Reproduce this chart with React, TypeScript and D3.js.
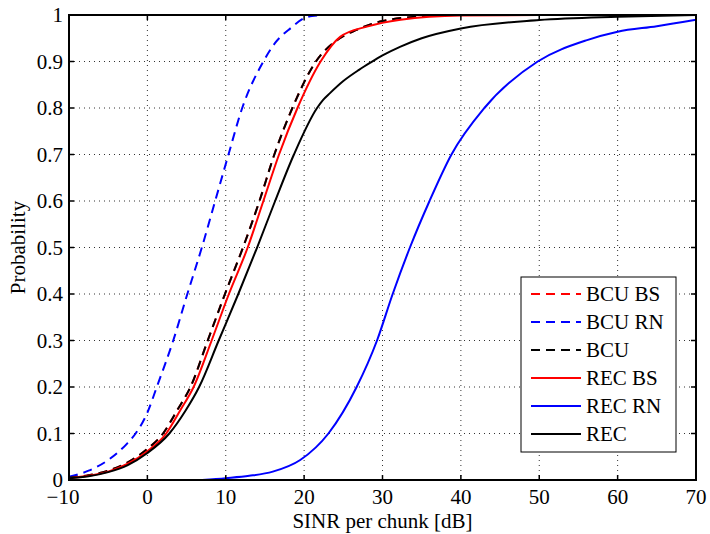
import React from "react";
import * as d3 from "d3";

const xTicks = [-10, 0, 10, 20, 30, 40, 50, 60, 70];
const yTicks = [0, 0.1, 0.2, 0.3, 0.4, 0.5, 0.6, 0.7, 0.8, 0.9, 1];

const bcuBsX = [-10, -7.5, -5, -2.5, 0, 2.0, 3.8, 5.5, 7.7, 9.9, 12.2, 14.3, 16.2, 18.5, 21.5, 24.2, 26.7, 30, 35, 40, 70];
const bcuBsP = [0.005, 0.01, 0.02, 0.038, 0.067, 0.1, 0.15, 0.2, 0.3, 0.4, 0.5, 0.6, 0.7, 0.8, 0.9, 0.946, 0.968, 0.987, 0.997, 1, 1];

const bcuRnX = [-10, -7.5, -5, -2.5, -1.5, 0, 1.2, 3.3, 5.1, 6.95, 8.65, 10.35, 12.1, 14.8, 16.3, 18.3, 20, 21, 23, 25];
const bcuRnP = [0.007, 0.02, 0.043, 0.08, 0.1, 0.145, 0.2, 0.3, 0.4, 0.5, 0.6, 0.7, 0.8, 0.9, 0.94, 0.972, 0.993, 0.998, 1.0, 1.0];

const bcuX = [-10, -7.5, -5, -2.5, 0, 2.0, 3.8, 5.5, 7.7, 9.9, 12.2, 14.3, 16.2, 18.5, 21.5, 24.2, 26.7, 30, 35, 40, 70];
const bcuP = [0.005, 0.01, 0.02, 0.038, 0.067, 0.1, 0.15, 0.2, 0.3, 0.4, 0.5, 0.6, 0.7, 0.8, 0.9, 0.946, 0.968, 0.987, 0.997, 1, 1];

const recBsX = [-10, -7.5, -5, -2.5, 0, 2.4, 4.2, 5.9, 8.2, 10.4, 12.8, 14.8, 16.8, 19.15, 22.1, 24.6, 28, 32.3, 40, 50, 70];
const recBsP = [0.004, 0.009, 0.018, 0.035, 0.062, 0.1, 0.15, 0.2, 0.3, 0.4, 0.5, 0.6, 0.7, 0.8, 0.9, 0.953, 0.975, 0.99, 0.999, 1, 1];

const recRnX = [7, 10, 13, 16, 19.5, 23.1, 26.7, 29.3, 31.3, 33.5, 36, 38.8, 43, 49.8, 56.1, 60, 65, 70];
const recRnP = [0, 0.004, 0.009, 0.018, 0.043, 0.1, 0.2, 0.3, 0.4, 0.5, 0.6, 0.7, 0.8, 0.9, 0.946, 0.964, 0.976, 0.99];

const recX = [-10, -7.5, -5, -2.5, 0, 2.8, 4.9, 6.6, 9.1, 11.6, 14.0, 16.3, 18.7, 21.65, 22.4, 23.3, 25, 27, 28.5, 30, 32.3, 35, 40, 50, 60, 70];
const recP = [0.004, 0.008, 0.017, 0.032, 0.058, 0.1, 0.15, 0.2, 0.3, 0.4, 0.5, 0.6, 0.7, 0.8, 0.817, 0.832, 0.858, 0.882, 0.898, 0.913, 0.932, 0.95, 0.971, 0.989, 0.996, 1];

const seriesNames = ["BCU BS", "BCU RN", "BCU", "REC BS", "REC RN", "REC"];
const seriesColors = ["#ff0000", "#0000ff", "#000000", "#ff0000", "#0000ff", "#000000"];
const seriesDashed = [true, true, true, false, false, false];
const seriesX = [bcuBsX, bcuRnX, bcuX, recBsX, recRnX, recX];
const seriesP = [bcuBsP, bcuRnP, bcuP, recBsP, recRnP, recP];

const W = 710;
const H = 534;
const L = 69, R = 696, T = 15, B = 480;
const FONT = "Liberation Serif, Times New Roman, Times, DejaVu Serif, serif";
const FS = 21;

export default function App() {
  const x = d3.scaleLinear().domain([-10, 70]).range([L, R]);
  const y = d3.scaleLinear().domain([0, 1]).range([B, T]);
  const line = d3
    .line<[number, number]>()
    .x((d) => x(d[0]))
    .y((d) => y(d[1]))
    .curve(d3.curveMonotoneX);

  const fmtY = (v: number) => (v === 0 ? "0" : v === 1 ? "1" : d3.format(".1f")(v));
  const fmtX = (v: number) => (v < 0 ? "\u2212" + Math.abs(v) : String(v));

  const legX = 521, legY = 277, legW = 155, legH = 175;
  const tick = 5;
  const textStyle = { fontFamily: FONT, fontSize: FS };

  return (
    <svg width={W} height={H} style={{ position: "absolute", left: 0, top: 0, background: "#fff" }}>
      <rect x={0} y={0} width={W} height={H} fill="#fff" />
      <g stroke="#000" strokeWidth={1} strokeDasharray="1,4" opacity={0.8}>
        {xTicks.slice(1, -1).map((t) => (
          <line key={"gx" + t} x1={x(t)} x2={x(t)} y1={T} y2={B} />
        ))}
        {yTicks.slice(1, -1).map((t) => (
          <line key={"gy" + t} x1={L} x2={R} y1={y(t)} y2={y(t)} />
        ))}
      </g>
      <g fill="none" strokeWidth={2} strokeLinejoin="round">
        {seriesNames.map((n, i) => (
          <path
            key={n}
            d={line(seriesX[i].map((v, j) => [v, seriesP[i][j]] as [number, number])) || ""}
            stroke={seriesColors[i]}
            strokeDasharray={seriesDashed[i] ? "9,6" : undefined}
          />
        ))}
      </g>
      <g stroke="#000" strokeWidth={1.5}>
        {xTicks.map((t) => (
          <g key={"tx" + t}>
            <line x1={x(t)} x2={x(t)} y1={B} y2={B - tick} />
            <line x1={x(t)} x2={x(t)} y1={T} y2={T + tick} />
          </g>
        ))}
        {yTicks.map((t) => (
          <g key={"ty" + t}>
            <line x1={L} x2={L + tick} y1={y(t)} y2={y(t)} />
            <line x1={R} x2={R - tick} y1={y(t)} y2={y(t)} />
          </g>
        ))}
      </g>
      <rect x={L} y={T} width={R - L} height={B - T} fill="none" stroke="#000" strokeWidth={2} />
      <g fill="#000">
        {xTicks.map((t) => (
          <text key={"lx" + t} x={x(t) - (t < 0 ? 6 : 0)} y={504} textAnchor="middle" style={textStyle}>
            {fmtX(t)}
          </text>
        ))}
        {yTicks.map((t) => (
          <text key={"ly" + t} x={63} y={y(t) + 7} textAnchor="end" style={textStyle}>
            {fmtY(t)}
          </text>
        ))}
        <text x={(L + R) / 2} y={528} textAnchor="middle" style={textStyle}>
          SINR per chunk [dB]
        </text>
        <text transform={`translate(25, ${(T + B) / 2}) rotate(-90)`} textAnchor="middle" style={textStyle}>
          Probability
        </text>
      </g>
      <rect x={legX} y={legY} width={legW} height={legH} fill="#fff" stroke="#000" strokeWidth={1} />
      <g>
        {seriesNames.map((n, i) => {
          const cy = 294 + i * 28;
          return (
            <g key={"lg" + n}>
              <line
                x1={531}
                x2={581}
                y1={cy}
                y2={cy}
                stroke={seriesColors[i]}
                strokeWidth={2}
                strokeDasharray={seriesDashed[i] ? "9,6" : undefined}
              />
              <text x={586} y={cy + 7} fill="#000" style={textStyle}>
                {n}
              </text>
            </g>
          );
        })}
      </g>
    </svg>
  );
}
